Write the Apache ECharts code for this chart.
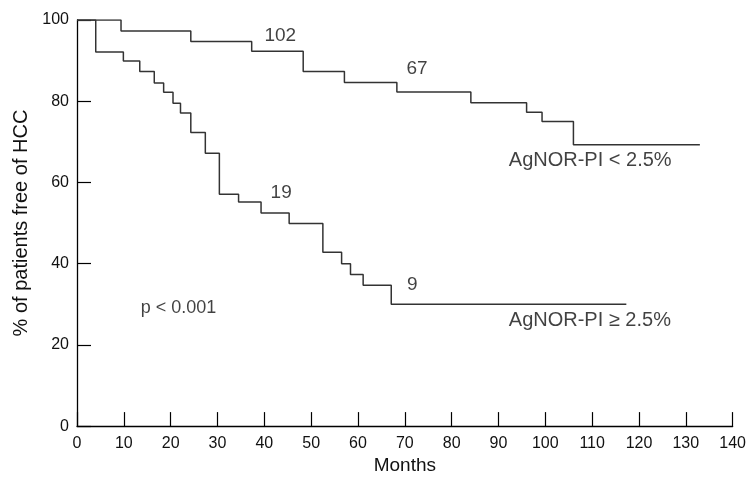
<!DOCTYPE html>
<html>
<head>
<meta charset="utf-8">
<script src="https://cdn.jsdelivr.net/npm/echarts@6/dist/echarts.min.js"></script>
<style>
html,body{margin:0;padding:0;background:#fff;}
#chart{width:749px;height:480px;}
</style>
</head>
<body>
<div id="chart"></div>
<script>
// Kaplan-Meier step data (months, % free of HCC)
var lowPIMonths = [0, 9.4, 24.3, 37.3, 48.3, 57.1, 68.3, 84.1, 96.0, 99.3, 106.0, 133.0];
var lowPIValues = [100, 97.3, 94.7, 92.3, 87.3, 84.6, 82.3, 79.6, 77.3, 75.0, 69.3, 69.3];
var highPIMonths = [0, 4.0, 9.9, 13.4, 16.5, 18.5, 20.5, 22.1, 24.3, 27.4, 30.4, 34.5, 39.3, 45.3, 52.5, 56.5, 58.4, 61.1, 67.1, 117.3];
var highPIValues = [100, 92.1, 89.9, 87.3, 84.5, 82.2, 79.5, 77.1, 72.3, 67.2, 57.1, 55.2, 52.5, 49.9, 42.8, 40.0, 37.3, 34.7, 30.0, 30.0];

// numbers at risk annotations
var riskTexts = ['102', '67', '19', '9'];
var riskX = [43.4, 72.6, 43.6, 71.6];
var riskY = [96.0, 87.9, 57.4, 34.8];

// group labels
var groupTexts = ['AgNOR-PI < 2.5%', 'AgNOR-PI \u2265 2.5%'];
var groupX = [92.2, 92.2];
var groupY = [65.3, 26.0];

var pText = 'p < 0.001';
var pX = 13.6, pY = 29.0;

var xTicks = {min: 0, max: 140, interval: 10};
var yTicks = {min: 0, max: 100, interval: 20};

var FONT = '"Liberation Sans", Arial, Helvetica, sans-serif';

function zip(xs, ys) { return xs.map(function (x, i) { return [x, ys[i]]; }); }

var chart = echarts.init(document.getElementById('chart'), null, {renderer: 'canvas'});

var annot = [];
riskTexts.forEach(function (t, i) {
  annot.push({value: [riskX[i], riskY[i]], name: t,
    label: {fontSize: 19, align: 'center'}});
});
groupTexts.forEach(function (t, i) {
  annot.push({value: [groupX[i], groupY[i]], name: t,
    label: {fontSize: 20, align: 'left'}});
});
annot.push({value: [pX, pY], name: pText, label: {fontSize: 18, align: 'left'}});

chart.setOption({
  animation: false,
  backgroundColor: '#fff',
  grid: {left: 77, right: 14, top: 20, bottom: 48, containLabel: false},
  xAxis: {
    type: 'value', min: xTicks.min, max: xTicks.max, interval: xTicks.interval,
    name: 'Months', nameLocation: 'middle', nameGap: 20,
    nameTextStyle: {fontSize: 19, color: '#111', fontFamily: FONT},
    axisLine: {show: true, lineStyle: {color: '#000', width: 1.3}},
    axisTick: {show: true, inside: true, length: 14, lineStyle: {color: '#000', width: 1.2}},
    axisLabel: {fontSize: 16, color: '#111', margin: 9, fontFamily: FONT},
    splitLine: {show: false}
  },
  yAxis: {
    type: 'value', min: yTicks.min, max: yTicks.max, interval: yTicks.interval,
    name: '% of patients free of HCC', nameLocation: 'middle', nameGap: 42,
    nameTextStyle: {fontSize: 20, color: '#111', fontFamily: FONT},
    axisLine: {show: true, lineStyle: {color: '#000', width: 1.3}},
    axisTick: {show: true, inside: true, length: 14, lineStyle: {color: '#000', width: 1.2}},
    axisLabel: {fontSize: 16, color: '#111', margin: 8, fontFamily: FONT},
    splitLine: {show: false}
  },
  series: [
    {
      type: 'line', step: 'end', data: zip(lowPIMonths, lowPIValues),
      symbol: 'none', lineStyle: {color: '#333', width: 1.5}, silent: true
    },
    {
      type: 'line', step: 'end', data: zip(highPIMonths, highPIValues),
      symbol: 'none', lineStyle: {color: '#333', width: 1.5}, silent: true
    },
    {
      type: 'scatter', symbolSize: 0, data: annot, silent: true,
      label: {show: true, position: 'inside', formatter: '{b}', color: '#111',
        fontFamily: FONT, verticalAlign: 'middle'}
    }
  ]
});
</script>
</body>
</html>
